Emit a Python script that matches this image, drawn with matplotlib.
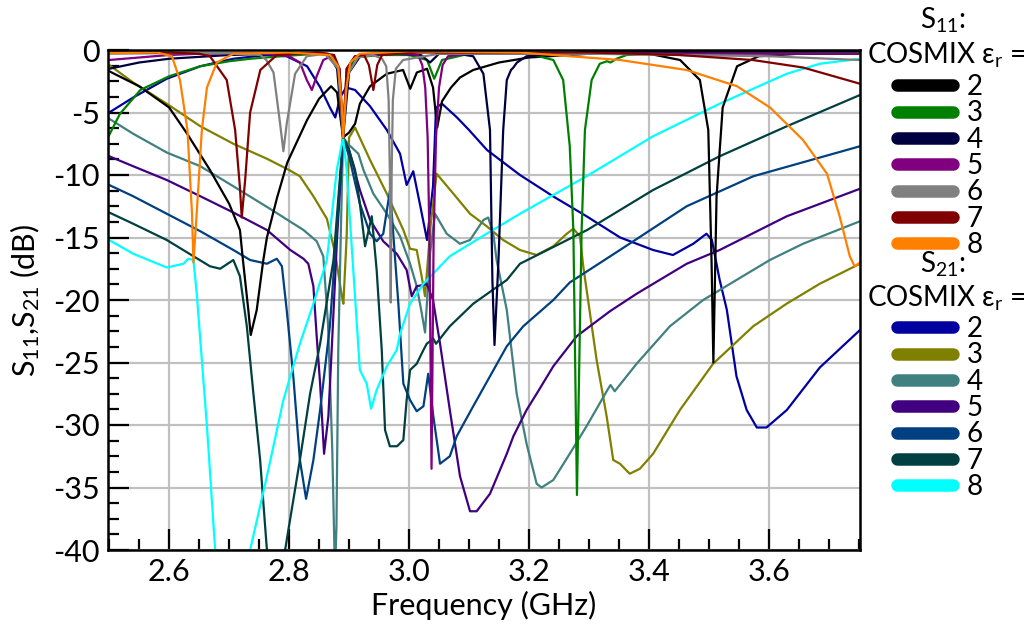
import matplotlib
matplotlib.use("Agg")
import matplotlib.pyplot as plt
from matplotlib.lines import Line2D
from matplotlib.ticker import MultipleLocator

FONT = ["Lato", "DejaVu Sans"]
plt.rcParams["font.family"] = FONT
plt.rcParams["mathtext.fontset"] = "custom"
plt.rcParams["mathtext.rm"] = "Lato"
plt.rcParams["mathtext.it"] = "Lato:italic"

# ---------------------------------------------------------------- data
# (frequency GHz, dB)
s11_er2 = [(2.50,-1.7),(2.55,-2.9),(2.60,-4.6),(2.63,-6.7),(2.668,-9.6),(2.70,-12.3),(2.718,-14.4),
           (2.723,-16.8),(2.732,-20.8),(2.736,-22.8),(2.746,-20.8),(2.757,-16.8),(2.763,-15.0),(2.78,-11.8),
           (2.797,-9.0),(2.83,-5.6),(2.85,-3.9),(2.87,-2.9),(2.88,-3.4),(2.89,-7.0),(2.90,-6.6),(2.91,-5.9),
           (2.918,-4.3),(2.935,-2.9),(2.963,-1.9),(2.99,-1.6),(3.002,-3.1),(3.013,-1.8),(3.03,-1.5),
           (3.04,-3.0),(3.047,-6.2),(3.055,-4.1),(3.07,-3.0),(3.085,-2.2),(3.107,-1.6),(3.15,-1.0),
           (3.20,-0.6),(3.30,-0.3),(3.40,-0.3),(3.452,-0.8),(3.485,-2.4),(3.499,-6.4),(3.5045,-17.0),
           (3.5075,-25.0),(3.5128,-11.7),(3.523,-4.6),(3.547,-1.3),(3.583,-0.5),(3.65,-0.3),(3.752,-0.3)]
s11_er3 = [(2.50,-6.8),(2.518,-5.1),(2.552,-3.2),(2.60,-2.1),(2.652,-1.3),(2.70,-0.9),(2.735,-0.7),
           (2.80,-0.45),(2.847,-0.3),(2.875,-0.5),(2.884,-2.0),(2.89,-7.0),(2.896,-2.0),(2.91,-0.6),
           (2.95,-0.4),(3.00,-0.4),(3.03,-0.8),(3.042,-2.3),(3.055,-0.8),(3.10,-0.3),(3.20,-0.3),
           (3.2406,-0.8),(3.257,-2.4),(3.268,-7.7),(3.274,-14.4),(3.28,-35.6),(3.2878,-14.4),(3.2933,-6.4),
           (3.3045,-2.4),(3.318,-1.1),(3.33,-0.9),(3.336,-1.0),(3.346,-0.7),(3.363,-0.4),(3.45,-0.2),
           (3.752,-0.15)]
s11_er4 = [(2.50,-1.5),(2.55,-1.0),(2.60,-0.7),(2.70,-0.4),(2.80,-0.25),(2.865,-0.3),(2.88,-1.5),
           (2.89,-7.0),(2.90,-1.8),(2.92,-0.4),(2.98,-0.3),(3.02,-0.4),(3.035,-1.0),(3.05,-0.3),
           (3.08,-0.3),(3.107,-0.5),(3.124,-1.9),(3.135,-6.4),(3.139,-18.4),(3.1425,-23.6),(3.149,-17.0),
           (3.157,-6.4),(3.163,-2.4),(3.17,-1.6),(3.174,-1.4),(3.18,-1.0),(3.196,-0.5),(3.30,-0.15),
           (3.752,-0.1)]
s11_er5 = [(2.50,-0.8),(2.55,-0.6),(2.60,-0.4),(2.65,-0.3),(2.75,-0.25),(2.80,-0.5),(2.818,-1.0),
           (2.8295,-2.4),(2.838,-3.2),(2.846,-2.1),(2.857,-0.8),(2.87,-0.5),(2.884,-1.5),(2.89,-7.0),
           (2.896,-1.5),(2.91,-0.5),(2.95,-0.3),(3.00,-0.3),(3.015,-0.4),(3.022,-1.2),(3.027,-3.0),
           (3.031,-7.0),(3.034,-15.0),(3.0375,-33.5),(3.041,-15.0),(3.045,-7.0),(3.05,-3.0),(3.056,-1.2),
           (3.065,-0.5),(3.10,-0.3),(3.752,-0.3)]
s11_er6 = [(2.50,-0.3),(2.60,-0.25),(2.70,-0.25),(2.752,-0.4),(2.762,-0.8),(2.774,-1.8),(2.785,-5.9),
           (2.7905,-8.1),(2.796,-5.9),(2.81,-1.9),(2.8295,-0.5),(2.86,-0.3),(2.882,-1.5),(2.89,-7.0),
           (2.897,-2.0),(2.915,-0.6),(2.94,-0.4),(2.955,-0.7),(2.962,-1.3),(2.966,-4.0),(2.968,-10.0),
           (2.9695,-20.2),(2.971,-10.0),(2.973,-4.0),(2.978,-1.5),(2.99,-0.8),(3.05,-0.3),(3.30,-0.3),
           (3.60,-0.5),(3.752,-0.8)]
s11_er7 = [(2.50,-0.2),(2.60,-0.2),(2.65,-0.3),(2.668,-0.5),(2.696,-2.4),(2.71,-6.4),(2.718,-11.0),
           (2.721,-13.4),(2.7267,-10.4),(2.735,-5.0),(2.752,-1.6),(2.7795,-0.4),(2.85,-0.2),(2.875,-0.4),
           (2.884,-1.5),(2.89,-7.0),(2.896,-1.5),(2.91,-0.5),(2.925,-0.4),(2.933,-1.2),(2.9405,-3.2),
           (2.947,-1.2),(2.955,-0.4),(3.00,-0.2),(3.30,-0.2),(3.45,-0.4),(3.573,-0.8),(3.657,-1.4),
           (3.752,-2.7)]
s11_er8 = [(2.50,-0.25),(2.58,-0.2),(2.6045,-0.5),(2.618,-2.4),(2.6305,-6.4),(2.638,-13.0),(2.6405,-17.0),
           (2.646,-13.0),(2.6545,-6.4),(2.663,-3.0),(2.6795,-1.0),(2.707,-0.3),(2.80,-0.2),(2.868,-0.4),
           (2.882,-1.3),(2.888,-4.5),(2.89,-7.0),(2.895,-3.2),(2.902,-1.0),(2.918,-0.3),(3.00,-0.1),
           (3.185,-0.2),(3.352,-0.8),(3.463,-1.6),(3.547,-2.9),(3.602,-4.6),(3.657,-7.2),(3.697,-9.9),
           (3.718,-13.3),(3.735,-16.5),(3.743,-17.3),(3.752,-17.0)]

s21_er2 = [(2.50,-5.0),(2.54,-3.8),(2.596,-2.3),(2.652,-1.3),(2.707,-0.7),(2.763,-0.4),(2.796,-0.5),
           (2.83,-1.3),(2.852,-3.0),(2.868,-4.6),(2.877,-5.4),(2.885,-3.8),(2.895,-3.0),(2.91,-3.2),
           (2.935,-4.5),(2.963,-6.4),(2.985,-8.3),(2.996,-10.8),(3.007,-9.7),(3.018,-12.3),(3.03,-15.2),
           (3.04,-10.9),(3.045,-4.6),(3.055,-4.3),(3.08,-5.4),(3.10,-6.4),(3.13,-8.0),(3.185,-10.0),
           (3.24,-11.7),(3.296,-13.3),(3.352,-15.0),(3.407,-16.0),(3.44,-16.4),(3.474,-15.5),(3.496,-14.7),
           (3.505,-15.2),(3.518,-18.4),(3.53,-20.8),(3.546,-26.1),(3.563,-28.8),(3.58,-30.2),(3.596,-30.2),
           (3.63,-28.8),(3.685,-25.4),(3.752,-22.4)]
s21_er3 = [(2.50,-1.2),(2.54,-2.6),(2.596,-4.3),(2.652,-6.1),(2.707,-7.5),(2.763,-8.7),(2.80,-9.6),
           (2.818,-10.1),(2.8405,-11.7),(2.863,-13.5),(2.877,-16.3),(2.888,-19.7),(2.8905,-20.3),(2.896,-14.9),
           (2.90,-7.0),(2.91,-6.2),(2.935,-8.8),(2.963,-11.5),(2.9905,-14.4),(3.0017,-15.9),(3.0128,-16.0),
           (3.021,-18.1),(3.0267,-19.7),(3.036,-14.0),(3.046,-9.9),(3.074,-11.5),(3.1017,-13.1),(3.1295,-14.1),
           (3.157,-15.2),(3.185,-16.0),(3.2128,-16.4),(3.2406,-15.7),(3.263,-14.7),(3.274,-14.3),(3.285,-14.9),
           (3.2905,-17.3),(3.3128,-24.8),(3.3295,-29.3),(3.3405,-32.8),(3.3517,-33.1),(3.368,-33.9),
           (3.385,-33.5),(3.407,-32.3),(3.4517,-28.8),(3.507,-25.1),(3.574,-22.1),(3.6295,-20.3),
           (3.685,-18.7),(3.752,-17.1)]
s21_er4 = [(2.50,-5.5),(2.54,-6.7),(2.596,-8.2),(2.652,-9.3),(2.707,-10.9),(2.768,-12.7),(2.824,-14.4),
           (2.846,-15.3),(2.857,-16.5),(2.865,-22.0),(2.872,-32.0),(2.8765,-42.0),(2.879,-38.0),(2.882,-24.0),
           (2.887,-13.0),(2.89,-7.0),(2.90,-7.6),(2.9155,-8.3),(2.924,-9.6),(2.9405,-11.5),(2.963,-13.1),
           (2.985,-14.9),(3.0017,-17.1),(3.0128,-18.9),(3.021,-21.0),(3.0267,-22.6),(3.035,-16.3),
           (3.0433,-13.1),(3.0628,-14.7),(3.085,-15.5),(3.1017,-15.2),(3.124,-13.6),(3.132,-13.4),
           (3.1405,-14.7),(3.146,-16.8),(3.163,-20.8),(3.1795,-27.5),(3.196,-31.5),(3.2128,-34.7),
           (3.221,-35.0),(3.2406,-34.4),(3.268,-32.3),(3.296,-30.1),(3.332,-27.1),(3.336,-26.8),
           (3.343,-27.3),(3.3795,-25.1),(3.435,-22.1),(3.4905,-20.0),(3.546,-18.4),(3.6017,-16.8),
           (3.657,-15.5),(3.752,-13.7)]
s21_er5 = [(2.50,-8.5),(2.54,-9.3),(2.596,-10.4),(2.652,-11.7),(2.707,-13.0),(2.763,-14.4),(2.802,-16.0),
           (2.824,-16.7),(2.832,-17.1),(2.8405,-18.9),(2.846,-22.9),(2.8517,-26.7),(2.8583,-32.3),
           (2.8655,-29.3),(2.871,-24.0),(2.88,-15.0),(2.89,-7.0),(2.90,-8.0),(2.918,-11.2),(2.935,-13.6),
           (2.957,-15.3),(2.9795,-16.3),(2.996,-17.6),(3.0045,-19.7),(3.0128,-18.9),(3.024,-18.8),
           (3.0295,-18.7),(3.04,-20.0),(3.0517,-23.5),(3.068,-28.8),(3.085,-34.1),(3.1017,-36.9),
           (3.1128,-36.9),(3.135,-35.5),(3.163,-32.3),(3.174,-30.9),(3.196,-28.8),(3.2128,-27.5),
           (3.2406,-25.3),(3.2795,-22.9),(3.335,-20.9),(3.3795,-19.5),(3.463,-17.1),(3.518,-16.0),
           (3.63,-13.3),(3.752,-11.1)]
s21_er6 = [(2.50,-10.8),(2.54,-11.7),(2.596,-13.1),(2.652,-14.5),(2.707,-16.0),(2.735,-16.8),(2.763,-17.1),
           (2.7795,-16.7),(2.788,-17.3),(2.796,-20.8),(2.807,-26.1),(2.818,-32.8),(2.8283,-35.9),
           (2.8405,-32.8),(2.8517,-28.8),(2.868,-22.1),(2.88,-14.0),(2.89,-7.0),(2.90,-8.5),(2.918,-12.3),
           (2.935,-14.7),(2.946,-15.3),(2.957,-14.7),(2.9683,-11.2),(2.974,-14.9),(2.9822,-20.3),
           (2.9905,-26.7),(3.0017,-28.0),(3.0128,-28.9),(3.024,-28.5),(3.032,-25.9),(3.0405,-29.3),
           (3.0517,-33.1),(3.068,-32.5),(3.0795,-30.9),(3.107,-28.5),(3.135,-26.1),(3.163,-23.7),
           (3.1905,-22.1),(3.2406,-20.0),(3.268,-18.6),(3.3517,-16.0),(3.463,-12.5),(3.574,-10.1),
           (3.752,-7.7)]
s21_er7 = [(2.50,-13.0),(2.54,-13.9),(2.596,-15.2),(2.6405,-16.5),(2.668,-17.3),(2.685,-17.5),(2.707,-16.8),
           (2.718,-18.1),(2.7295,-22.1),(2.7405,-27.5),(2.7517,-32.8),(2.763,-40.0),(2.778,-47.0),
           (2.7933,-40.0),(2.818,-32.8),(2.835,-27.5),(2.8517,-23.5),(2.874,-16.8),(2.89,-7.0),(2.90,-8.0),
           (2.91,-9.6),(2.918,-12.3),(2.9267,-15.7),(2.9378,-13.3),(2.946,-17.6),(2.9545,-24.0),(2.96,-30.4),
           (2.968,-31.7),(2.98,-31.7),(2.9905,-31.2),(2.996,-28.0),(3.0017,-25.6),(3.0128,-25.1),(3.024,-24.0),
           (3.0295,-23.5),(3.0405,-23.1),(3.045,-23.5),(3.068,-22.1),(3.107,-20.3),(3.163,-18.4),
           (3.185,-17.1),(3.297,-14.4),(3.407,-11.2),(3.518,-8.5),(3.63,-6.1),(3.752,-3.6)]
s21_er8 = [(2.50,-15.2),(2.54,-16.3),(2.596,-17.4),(2.624,-17.1),(2.632,-16.7),(2.6405,-16.8),(2.646,-19.5),
           (2.663,-30.1),(2.6767,-40.0),(2.705,-50.0),(2.735,-40.0),(2.763,-34.1),(2.7905,-28.0),
           (2.818,-23.5),(2.8405,-20.3),(2.863,-16.8),(2.8795,-9.6),(2.89,-7.0),(2.896,-9.6),(2.907,-17.6),
           (2.918,-25.6),(2.9295,-26.7),(2.9367,-28.7),(2.946,-27.2),(2.963,-25.3),(2.9795,-24.0),
           (2.985,-22.7),(3.0017,-20.3),(3.024,-18.7),(3.046,-17.6),(3.068,-16.5),(3.1295,-14.7),
           (3.185,-13.1),(3.296,-10.1),(3.407,-6.9),(3.518,-4.3),(3.63,-1.9),(3.685,-1.1),(3.752,-0.7)]

er_labels = ["2", "3", "4", "5", "6", "7", "8"]
s11_curves = [s11_er2, s11_er3, s11_er4, s11_er5, s11_er6, s11_er7, s11_er8]
s21_curves = [s21_er2, s21_er3, s21_er4, s21_er5, s21_er6, s21_er7, s21_er8]
s11_colors = ["#000000", "#008000", "#000040", "#800080", "#808080", "#800000", "#ff8000"]
s21_colors = ["#0000a0", "#808000", "#408080", "#400080", "#004080", "#004040", "#00ffff"]

# ---------------------------------------------------------------- figure
fig = plt.figure(figsize=(10.30, 6.33), dpi=100)
ax = fig.add_axes([108 / 1030, 1 - 550 / 633, 752 / 1030, 500 / 633])

for curve, c in zip(s21_curves, s21_colors):
    f, db = zip(*curve)
    ax.plot(f, db, color=c, lw=1.6)
for curve, c in zip(s11_curves, s11_colors):
    f, db = zip(*curve)
    ax.plot(f, db, color=c, lw=1.6)

ax.set_xlim(2.498, 3.752)
ax.set_ylim(-40, 0)
ax.xaxis.set_major_locator(MultipleLocator(0.2))
ax.xaxis.set_minor_locator(MultipleLocator(0.05))
ax.yaxis.set_major_locator(MultipleLocator(5))
ax.yaxis.set_minor_locator(MultipleLocator(1.25))
ax.xaxis.set_major_formatter(plt.FuncFormatter(lambda v, p: f"{v:.1f}"))
ax.yaxis.set_major_formatter(plt.FuncFormatter(lambda v, p: f"{v:.0f}"))
ax.grid(which="major", color="#c0c0c0", lw=1.6)
ax.set_axisbelow(True)
ax.tick_params(which="major", direction="in", length=15, width=1.6, labelsize=22, pad=6)
ax.tick_params(which="minor", direction="in", length=8, width=1.6)
for s in ax.spines.values():
    s.set_linewidth(1.8)

ax.set_xlabel("Frequency (GHz)", fontsize=22)
ax.set_ylabel(r"S$_{11}$,S$_{21}$ (dB)", fontsize=22)
ax.xaxis.set_label_coords(0.5, -0.082)
ax.yaxis.set_label_coords(-0.088, 0.5)


def legend_block(colors, name, y_name, y_cosmix, y_center):
    fig.text(943 / 1030, 1 - y_name / 633, name, fontsize=20, ha="center", va="center")
    fig.text(946 / 1030, 1 - y_cosmix / 633, "COSMIX ε$_\\mathrm{r}$ =", fontsize=20,
             ha="center", va="center")
    handles = [Line2D([], [], color=c, lw=9, solid_capstyle="round") for c in colors]
    fig.legend(handles, er_labels, loc="center", bbox_to_anchor=(940 / 1030, 1 - y_center / 633),
               frameon=False, fontsize=20, handlelength=2.0, handletextpad=0.5,
               labelspacing=0.01, borderpad=0.0, borderaxespad=0)


legend_block(s11_colors, "S$_{11}$:", 20, 55, 166)
legend_block(s21_colors, "S$_{21}$:", 264, 298, 408)

fig.savefig("out.png", dpi=100)
